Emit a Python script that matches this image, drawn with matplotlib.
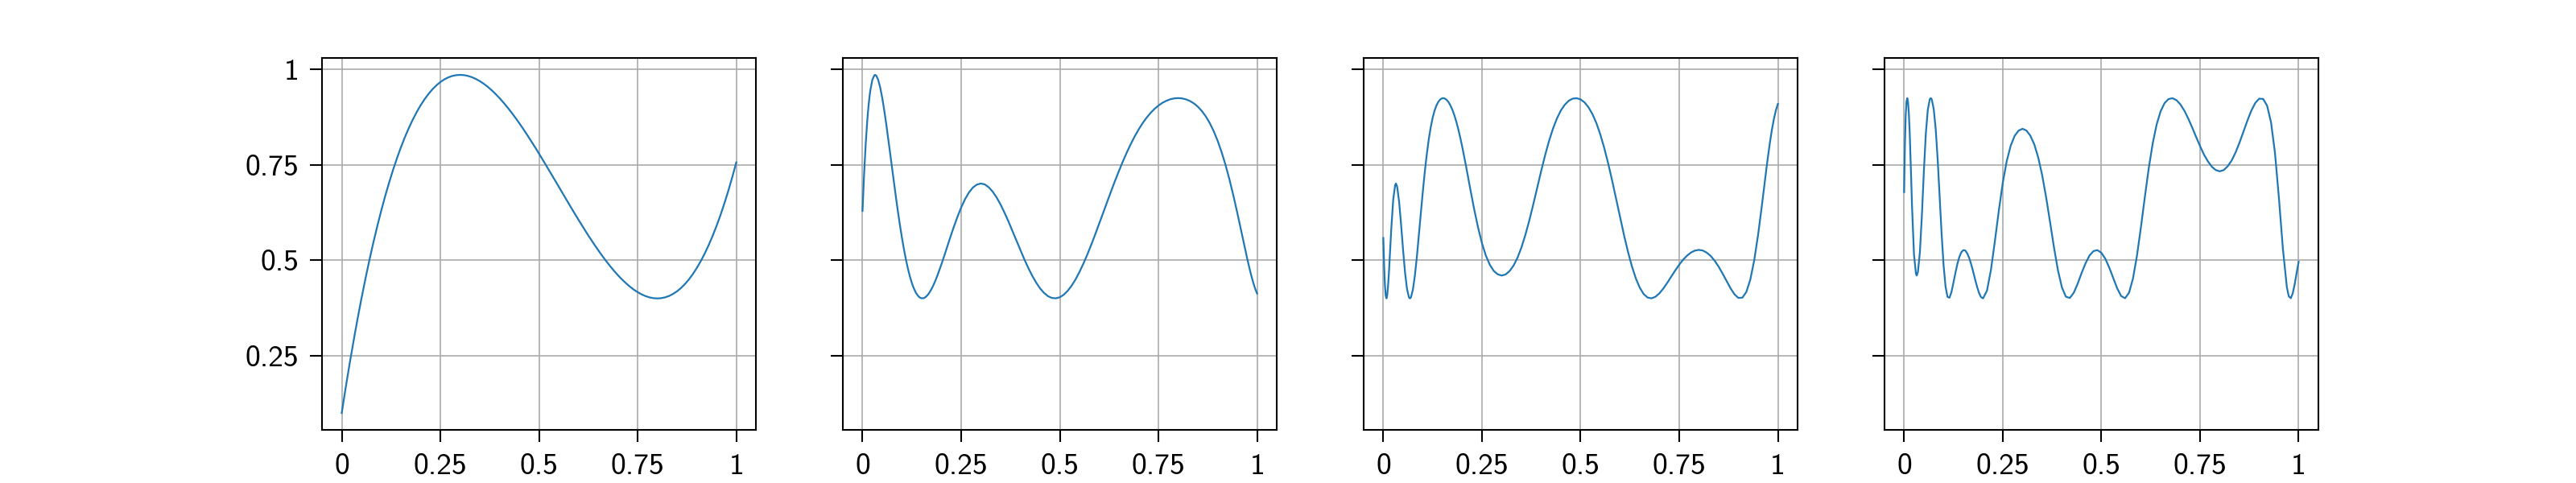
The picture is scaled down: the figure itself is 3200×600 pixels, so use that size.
import matplotlib
matplotlib.use("Agg")
import matplotlib.pyplot as plt

# x positions of the sampled points (shared by all four panels)
x_values = [
    0.000, 0.002, 0.004, 0.006, 0.008, 0.010, 0.012, 0.014, 0.016, 0.018, 0.020,
    0.025, 0.030, 0.032, 0.035, 0.040, 0.045, 0.050, 0.055, 0.060, 0.065, 0.0675,
    0.070, 0.075, 0.080, 0.085, 0.090, 0.095, 0.100, 0.105, 0.110, 0.115, 0.120,
    0.125, 0.130, 0.135, 0.140, 0.145, 0.150, 0.155, 0.160, 0.165, 0.170, 0.175,
    0.180, 0.185, 0.190, 0.195, 0.200,
    0.21, 0.22, 0.23, 0.24, 0.25, 0.26, 0.27, 0.28, 0.29, 0.30,
    0.31, 0.32, 0.33, 0.34, 0.35, 0.36, 0.37, 0.38, 0.39, 0.40,
    0.41, 0.42, 0.43, 0.44, 0.45, 0.46, 0.47, 0.48, 0.49, 0.50,
    0.51, 0.52, 0.53, 0.54, 0.55, 0.56, 0.57, 0.58, 0.59, 0.60,
    0.61, 0.62, 0.63, 0.64, 0.65, 0.66, 0.67, 0.68, 0.69, 0.70,
    0.71, 0.72, 0.73, 0.74, 0.75, 0.76, 0.77, 0.78, 0.79, 0.80,
    0.81, 0.82, 0.83, 0.84, 0.85, 0.86, 0.87, 0.88, 0.89, 0.90,
    0.91, 0.92, 0.93, 0.94, 0.95, 0.96, 0.97, 0.975, 0.98, 0.985, 0.99, 0.995, 1.00,
]

curve_1 = [
    0.1000, 0.1134, 0.1267, 0.1399, 0.1530, 0.1659, 0.1787, 0.1914, 0.2040, 0.2164, 0.2288,
    0.2591, 0.2887, 0.3003, 0.3175, 0.3456, 0.3730, 0.3997, 0.4257, 0.4510, 0.4756, 0.4877,
    0.4996, 0.5228, 0.5454, 0.5673, 0.5886, 0.6092, 0.6292, 0.6486, 0.6673, 0.6854, 0.7029,
    0.7198, 0.7361, 0.7518, 0.7669, 0.7815, 0.7955, 0.8089, 0.8218, 0.8341, 0.8459, 0.8571,
    0.8678, 0.8780, 0.8877, 0.8969, 0.9055,
    0.9214, 0.9354, 0.9475, 0.9578, 0.9664, 0.9733, 0.9786, 0.9823, 0.9844, 0.9852,
    0.9845, 0.9824, 0.9791, 0.9745, 0.9688, 0.9619, 0.9540, 0.9450, 0.9351, 0.9243,
    0.9126, 0.9002, 0.8870, 0.8732, 0.8587, 0.8437, 0.8282, 0.8122, 0.7958, 0.7791,
    0.7621, 0.7449, 0.7275, 0.7101, 0.6925, 0.6750, 0.6575, 0.6401, 0.6229, 0.6059,
    0.5892, 0.5728, 0.5568, 0.5413, 0.5263, 0.5118, 0.4980, 0.4848, 0.4724, 0.4607,
    0.4499, 0.4401, 0.4311, 0.4231, 0.4163, 0.4105, 0.4060, 0.4026, 0.4006, 0.3999,
    0.4006, 0.4028, 0.4065, 0.4118, 0.4187, 0.4273, 0.4376, 0.4497, 0.4637, 0.4796,
    0.4975, 0.5173, 0.5393, 0.5634, 0.5897, 0.6182, 0.6491, 0.6654, 0.6823, 0.6998, 0.7179, 0.7366, 0.7560,
]

curve_2 = [
    0.6292, 0.6794, 0.7251, 0.7666, 0.8034, 0.8360, 0.8650, 0.8902, 0.9119, 0.9304, 0.9460,
    0.9727, 0.9841, 0.9852, 0.9829, 0.9713, 0.9513, 0.9246, 0.8927, 0.8572, 0.8192, 0.7996,
    0.7798, 0.7400, 0.7006, 0.6622, 0.6253, 0.5905, 0.5581, 0.5284, 0.5017, 0.4781, 0.4576,
    0.4403, 0.4262, 0.4153, 0.4074, 0.4023, 0.4002, 0.4005, 0.4035, 0.4087, 0.4159, 0.4248,
    0.4353, 0.4473, 0.4605, 0.4747, 0.4894,
    0.5204, 0.5523, 0.5831, 0.6119, 0.6380, 0.6601, 0.6777, 0.6905, 0.6980, 0.7008,
    0.6983, 0.6908, 0.6793, 0.6640, 0.6454, 0.6241, 0.6011, 0.5766, 0.5516, 0.5268,
    0.5026, 0.4800, 0.4595, 0.4415, 0.4262, 0.4144, 0.4058, 0.4011, 0.4002, 0.4029,
    0.4096, 0.4198, 0.4333, 0.4498, 0.4695, 0.4914, 0.5154, 0.5411, 0.5682, 0.5960,
    0.6243, 0.6526, 0.6806, 0.7078, 0.7339, 0.7590, 0.7824, 0.8043, 0.8244, 0.8426,
    0.8588, 0.8731, 0.8855, 0.8961, 0.9048, 0.9120, 0.9173, 0.9213, 0.9236, 0.9244,
    0.9236, 0.9210, 0.9167, 0.9104, 0.9018, 0.8906, 0.8765, 0.8591, 0.8380, 0.8128,
    0.7833, 0.7495, 0.7113, 0.6690, 0.6234, 0.5758, 0.5276, 0.5043, 0.4819, 0.4609, 0.4422, 0.4258, 0.4128,
]

curve_3 = [
    0.5581, 0.4856, 0.4355, 0.4075, 0.4001, 0.4097, 0.4325, 0.4640, 0.5013, 0.5403, 0.5792,
    0.6581, 0.6969, 0.7008, 0.6926, 0.6534, 0.5934, 0.5274, 0.4680, 0.4249, 0.4026, 0.3999,
    0.4027, 0.4231, 0.4600, 0.5088, 0.5643, 0.6221, 0.6783, 0.7303, 0.7762, 0.8152, 0.8473,
    0.8728, 0.8920, 0.9060, 0.9156, 0.9216, 0.9241, 0.9237, 0.9202, 0.9141, 0.9053, 0.8939,
    0.8797, 0.8626, 0.8429, 0.8207, 0.7968,
    0.7442, 0.6885, 0.6348, 0.5861, 0.5444, 0.5117, 0.4878, 0.4718, 0.4630, 0.4598,
    0.4627, 0.4715, 0.4857, 0.5063, 0.5332, 0.5662, 0.6041, 0.6460, 0.6897, 0.7331,
    0.7747, 0.8122, 0.8444, 0.8710, 0.8920, 0.9071, 0.9175, 0.9230, 0.9241, 0.9209,
    0.9131, 0.9004, 0.8824, 0.8590, 0.8290, 0.7935, 0.7528, 0.7082, 0.6606, 0.6127,
    0.5659, 0.5225, 0.4841, 0.4523, 0.4280, 0.4111, 0.4021, 0.4002, 0.4044, 0.4136,
    0.4263, 0.4414, 0.4574, 0.4734, 0.4882, 0.5015, 0.5120, 0.5202, 0.5252, 0.5270,
    0.5252, 0.5195, 0.5108, 0.4983, 0.4828, 0.4647, 0.4455, 0.4265, 0.4107, 0.4012,
    0.4019, 0.4166, 0.4486, 0.4994, 0.5674, 0.6474, 0.7317, 0.7718, 0.8091, 0.8423, 0.8700, 0.8925, 0.9091,
]

curve_4 = [
    0.6783, 0.8030, 0.8794, 0.9155, 0.9242, 0.9130, 0.8835, 0.8375, 0.7769, 0.7096, 0.6415,
    0.5146, 0.4643, 0.4598, 0.4694, 0.5214, 0.6171, 0.7320, 0.8313, 0.8937, 0.9213, 0.9243,
    0.9211, 0.8961, 0.8437, 0.7641, 0.6675, 0.5694, 0.4870, 0.4309, 0.4039, 0.4017, 0.4168,
    0.4410, 0.4669, 0.4903, 0.5086, 0.5208, 0.5263, 0.5254, 0.5177, 0.5056, 0.4891, 0.4699,
    0.4493, 0.4300, 0.4138, 0.4031, 0.4001,
    0.4202, 0.4743, 0.5494, 0.6296, 0.7024, 0.7592, 0.7994, 0.8253, 0.8391, 0.8440,
    0.8395, 0.8258, 0.8029, 0.7684, 0.7219, 0.6641, 0.5991, 0.5323, 0.4728, 0.4286,
    0.4044, 0.4011, 0.4148, 0.4388, 0.4669, 0.4923, 0.5124, 0.5239, 0.5263, 0.5193,
    0.5036, 0.4803, 0.4531, 0.4264, 0.4061, 0.4004, 0.4147, 0.4518, 0.5110, 0.5848,
    0.6647, 0.7405, 0.8055, 0.8552, 0.8896, 0.9112, 0.9218, 0.9241, 0.9192, 0.9081,
    0.8919, 0.8712, 0.8476, 0.8228, 0.7988, 0.7765, 0.7587, 0.7446, 0.7359, 0.7327,
    0.7359, 0.7458, 0.7607, 0.7819, 0.8076, 0.8364, 0.8652, 0.8916, 0.9117, 0.9229,
    0.9221, 0.9044, 0.8607, 0.7801, 0.6620, 0.5302, 0.4297, 0.4054, 0.4005, 0.4134, 0.4376, 0.4677, 0.4959,
]

curves = [curve_1, curve_2, curve_3, curve_4]

tick_values = [0, 0.25, 0.5, 0.75, 1]
tick_labels = ["0", "0.25", "0.5", "0.75", "1"]
y_tick_values = [0.25, 0.5, 0.75, 1]
y_tick_labels = ["0.25", "0.5", "0.75", "1"]

plt.rcParams["font.family"] = ["cmss10", "DejaVu Sans"]
plt.rcParams["axes.unicode_minus"] = False
plt.rcParams["font.size"] = 13.5

fig, axes = plt.subplots(1, 4, figsize=(16, 3), dpi=200, sharey=True)

for ax, ys in zip(axes, curves):
    ax.plot(x_values, ys, color="#1f77b4", linewidth=0.8)
    ax.set_xticks(tick_values, tick_labels)
    ax.grid(True, color="#aaaaaa", linewidth=0.6)
    ax.set_axisbelow(True)
    for sp in ax.spines.values():
        sp.set_linewidth(0.75)
        sp.set_color("black")
    ax.tick_params(axis="both", length=5.4, width=0.75, pad=5.0, labelsize=13.5)

axes[0].set_yticks(y_tick_values, y_tick_labels)

fig.savefig("out.png", dpi=200)
